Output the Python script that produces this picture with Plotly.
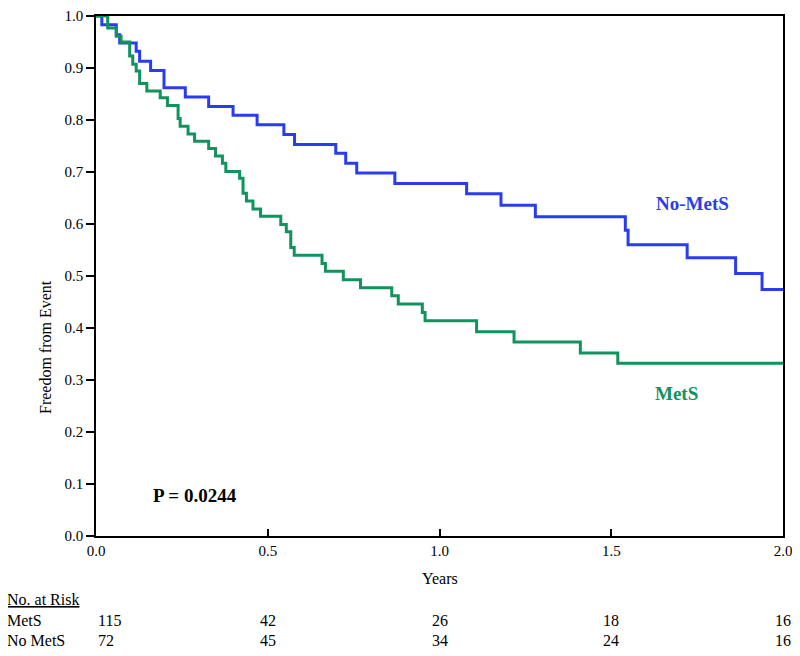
import plotly.graph_objects as go

# Kaplan-Meier step data (time in years, survival after drop)
nomets_times = [0.017, 0.059, 0.069, 0.117, 0.127, 0.159, 0.198, 0.260, 0.328, 0.399,
                0.469, 0.547, 0.578, 0.698, 0.727, 0.759, 0.870, 1.079, 1.179, 1.279,
                1.541, 1.549, 1.721, 1.862, 1.939]
nomets_surv = [0.983, 0.964, 0.948, 0.932, 0.913, 0.895, 0.862, 0.844, 0.826, 0.809,
               0.791, 0.772, 0.753, 0.736, 0.717, 0.698, 0.678, 0.658, 0.636, 0.614,
               0.588, 0.560, 0.535, 0.505, 0.474]

mets_times = [0.034, 0.059, 0.073, 0.098, 0.107, 0.117, 0.127, 0.148, 0.187, 0.208,
              0.239, 0.245, 0.268, 0.287, 0.328, 0.348, 0.368, 0.378, 0.418, 0.428,
              0.438, 0.457, 0.479, 0.538, 0.554, 0.567, 0.577, 0.658, 0.668, 0.720,
              0.770, 0.861, 0.880, 0.950, 0.958, 1.108, 1.217, 1.410, 1.519]
mets_surv = [0.977, 0.961, 0.950, 0.923, 0.907, 0.894, 0.870, 0.856, 0.843, 0.828,
             0.803, 0.788, 0.773, 0.759, 0.745, 0.731, 0.717, 0.701, 0.688, 0.659,
             0.644, 0.629, 0.615, 0.599, 0.585, 0.555, 0.540, 0.524, 0.509, 0.493,
             0.4775, 0.462, 0.446, 0.430, 0.414, 0.393, 0.373, 0.352, 0.332]

x_end = 2.0
risk_times = [0.0, 0.5, 1.0, 1.5, 2.0]
risk_mets = [115, 42, 26, 18, 16]
risk_nomets = [72, 45, 34, 24, 16]
x_ticks = [0.0, 0.5, 1.0, 1.5, 2.0]
y_ticks = [0.0, 0.1, 0.2, 0.3, 0.4, 0.5, 0.6, 0.7, 0.8, 0.9, 1.0]

BLUE = "#2a3cf0"
GREEN = "#11935e"
FONT = "Liberation Serif, Times New Roman, serif"

fig = go.Figure()
fig.add_trace(go.Scatter(
    x=[0.0] + nomets_times + [x_end],
    y=[1.0] + nomets_surv + [nomets_surv[-1]],
    mode="lines", line=dict(shape="hv", color=BLUE, width=3),
    name="No-MetS", showlegend=False, hoverinfo="skip"))
fig.add_trace(go.Scatter(
    x=[0.0] + mets_times + [x_end],
    y=[1.0] + mets_surv + [mets_surv[-1]],
    mode="lines", line=dict(shape="hv", color=GREEN, width=3),
    name="MetS", showlegend=False, hoverinfo="skip"))

# plot area: 687 x 520 px
PW, PH = 687.0, 520.0
def px_x(dx):
    return dx / PW
def px_y(dy):
    return dy / PH

ann = []
ann.append(dict(x=1.736, y=0.640, xref="x", yref="y", text="<b>No-MetS</b>",
                xanchor="center", yanchor="middle",
                showarrow=False, font=dict(family=FONT, size=19, color=BLUE)))
ann.append(dict(x=1.690, y=0.275, xref="x", yref="y", text="<b>MetS</b>",
                xanchor="center", yanchor="middle",
                showarrow=False, font=dict(family=FONT, size=19, color=GREEN)))
ann.append(dict(x=0.287, y=0.078, xref="x", yref="y", text="<b>P = 0.0244</b>",
                xanchor="center", yanchor="middle",
                showarrow=False, font=dict(family=FONT, size=19, color="black")))

# axis titles (pixel offsets from the plot's bottom/left edges)
ann.append(dict(x=0.5, y=-px_y(42), xref="paper", yref="paper", text="Years",
                xanchor="center", yanchor="middle",
                showarrow=False, font=dict(family=FONT, size=16, color="black")))
ann.append(dict(x=-px_x(51), y=px_y(189), xref="paper", yref="paper", text="Freedom from Event",
                xanchor="center", yanchor="middle",
                textangle=-90, showarrow=False, font=dict(family=FONT, size=16, color="black")))

# risk table
ann.append(dict(x=-px_x(91), y=-px_y(63), xref="paper", yref="paper", text="<u>No. at Risk</u>",
                xanchor="left", yanchor="middle", showarrow=False,
                font=dict(family=FONT, size=16, color="black")))
for label, vals, dy in [("MetS", risk_mets, 84), ("No MetS", risk_nomets, 104)]:
    ann.append(dict(x=-px_x(91), y=-px_y(dy), xref="paper", yref="paper", text=label,
                    xanchor="left", yanchor="middle", showarrow=False,
                    font=dict(family=FONT, size=16, color="black")))
    for i, (t, v) in enumerate(zip(risk_times, vals)):
        ann.append(dict(x=t, y=-px_y(dy), xref="x", yref="paper", text=str(v),
                        xanchor="left" if i == 0 else "center", yanchor="middle",
                        showarrow=False, font=dict(family=FONT, size=16, color="black")))

# the page body has an 8px default margin, so the figure is offset by 8px
fig.update_layout(
    width=792, height=648,
    margin=dict(l=88, r=17, t=8, b=120, autoexpand=False),
    paper_bgcolor="white", plot_bgcolor="white",
    font=dict(family=FONT, size=15, color="black"),
    annotations=ann,
    xaxis=dict(range=[0, 2.0], tickvals=x_ticks, ticktext=[f"{v:.1f}" for v in x_ticks],
               showgrid=False, zeroline=False, showline=True, linecolor="black",
               linewidth=1.5, mirror=True, ticks="inside", ticklen=7, tickwidth=1.5,
               tickcolor="black", tickfont=dict(family=FONT, size=15), automargin=False,
               ticklabeloverflow="allow"),
    yaxis=dict(range=[0, 1.0], tickvals=y_ticks, ticktext=[f"{v:.1f}" for v in y_ticks],
               showgrid=False, zeroline=False, showline=True, linecolor="black",
               linewidth=1.5, mirror=True, ticks="outside", ticklen=8, tickwidth=1.5,
               tickcolor="black", tickfont=dict(family=FONT, size=15), automargin=False,
               ticklabeloverflow="allow"),
)

fig.write_html("out.html")
